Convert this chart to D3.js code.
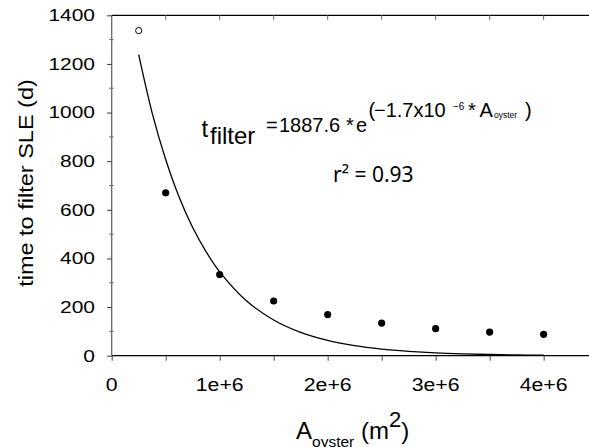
<!DOCTYPE html>
<html>
<head>
<meta charset="utf-8">
<script src="https://cdn.jsdelivr.net/npm/d3@7"></script>
<style>
  html, body { margin: 0; padding: 0; background: #fff; }
  svg { display: block; font-family: "Liberation Sans", Arial, sans-serif; }
</style>
</head>
<body>
<svg id="chart" width="589" height="447"></svg>
<script>
// ---- data ----
const areaFilled = [0.5e6, 1e6, 1.5e6, 2e6, 2.5e6, 3e6, 3.5e6, 4e6];
const timeFilled = [670, 334, 225, 169, 134, 111, 97, 88];
const areaOpen = [0.25e6];
const timeOpen = [1337];
// fitted curve
const fitArea = [0.25e6, 0.375e6, 0.5e6, 0.625e6, 0.75e6, 0.875e6, 1e6, 1.25e6, 1.5e6, 1.75e6, 2e6, 2.25e6, 2.5e6, 2.75e6, 3e6, 3.25e6, 3.5e6, 3.75e6, 4e6];
const fitTime = [1238, 998, 807, 652, 527, 427, 345, 225, 147, 96, 63, 41, 27, 18, 11.5, 7.5, 4.9, 3.2, 2.1];
const xTickValues = [0, 1e6, 2e6, 3e6, 4e6];
const xTickLabels = ["0", "1e+6", "2e+6", "3e+6", "4e+6"];
const xMinorTicks = [0, 0.5e6, 1e6, 1.5e6, 2e6, 2.5e6, 3e6, 3.5e6, 4e6];
const yTickValues = [0, 200, 400, 600, 800, 1000, 1200, 1400];
const yMinorTicks = [100, 300, 500, 700, 900, 1100, 1300];

// ---- layout ----
const svg = d3.select("#chart");
const x = d3.scaleLinear().domain([0, 4.42e6]).range([111.7, 589]);
const y = d3.scaleLinear().domain([0, 1400]).range([355.7, 15.3]);

// top frame line with inward ticks
svg.append("line").attr("x1", x(0)).attr("x2", 589).attr("y1", y(1400)).attr("y2", y(1400))
  .attr("stroke", "#000").attr("stroke-width", 1.3);
svg.append("g").selectAll("line").data(xMinorTicks.slice(1)).join("line")
  .attr("x1", d => x(d)).attr("x2", d => x(d))
  .attr("y1", y(1400)).attr("y2", y(1400) + 4.5)
  .attr("stroke", "#666").attr("stroke-width", 1);

// bottom axis
const xAxis = d3.axisBottom(x).tickValues(xMinorTicks).tickSize(5).tickFormat("");
const gx = svg.append("g").attr("transform", `translate(0,${y(0)})`).call(xAxis);
gx.select(".domain").attr("d", `M${x(0)},0H589`).attr("stroke", "#000").attr("stroke-width", 1.3);
gx.selectAll(".tick line").attr("stroke", "#444");
svg.append("g").selectAll("text").data(xTickValues).join("text")
  .attr("transform", d => `translate(${x(d)},391) scale(1.15,1)`)
  .attr("text-anchor", "middle")
  .attr("font-size", 18.5)
  .attr("fill", "#000")
  .text((d, i) => xTickLabels[i]);

// left axis
const yAxis = d3.axisLeft(y).tickValues(yTickValues).tickSize(4.5).tickFormat("");
const gy = svg.append("g").attr("transform", `translate(${x(0)},0)`).call(yAxis);
gy.select(".domain").attr("d", `M0,${y(0)}V${y(1400)}`).attr("stroke", "#666").attr("stroke-width", 1.3);
gy.selectAll(".tick line").attr("stroke", "#333");
svg.append("g").selectAll("line").data(yMinorTicks).join("line")
  .attr("x1", x(0) - 2.5).attr("x2", x(0) + 1.8)
  .attr("y1", d => y(d)).attr("y2", d => y(d))
  .attr("stroke", "#666").attr("stroke-width", 1);
svg.append("g").selectAll("text").data(yTickValues).join("text")
  .attr("transform", d => `translate(95,${y(d) + 5.9}) scale(1.27,1)`)
  .attr("text-anchor", "end")
  .attr("font-size", 16.5)
  .attr("fill", "#000")
  .text(d => d);

// y axis title
svg.append("text")
  .attr("transform", "translate(32.6,183) rotate(-90) scale(1.12,1)")
  .attr("text-anchor", "middle")
  .attr("font-size", 21)
  .text("time to filter SLE (d)");

// x axis title
const xt = svg.append("text").attr("x", 296).attr("y", 438.5).attr("font-size", 24);
xt.append("tspan").text("A");
xt.append("tspan").attr("font-size", 15.5).attr("dy", 8).text("oyster");
xt.append("tspan").attr("dy", -8).text(" (m");
xt.append("tspan").attr("font-size", 22).attr("dy", -11.5).text("2");
xt.append("tspan").attr("dy", 11.5).text(")");

// fitted curve
const fitLine = d3.line().x((d, i) => x(fitArea[i])).y(d => y(d)).curve(d3.curveCatmullRom.alpha(0.5));
svg.append("path").datum(fitTime).attr("d", fitLine)
  .attr("fill", "none").attr("stroke", "#000").attr("stroke-width", 1.3);

// points
svg.append("g").selectAll("circle").data(timeFilled).join("circle")
  .attr("cx", (d, i) => x(areaFilled[i])).attr("cy", d => y(d)).attr("r", 3.6)
  .attr("fill", "#000");
svg.append("g").selectAll("circle").data(timeOpen).join("circle")
  .attr("cx", (d, i) => x(areaOpen[i])).attr("cy", d => y(d)).attr("r", 3.1)
  .attr("fill", "#fff").attr("stroke", "#000").attr("stroke-width", 1);

// equation annotation
const eq = svg.append("g").attr("fill", "#000");
const piece = (txt, px, py, fs) => eq.append("text").attr("x", px).attr("y", py).attr("font-size", fs).text(txt);
piece("t", 201.5, 137, 24);
piece("filter", 210, 143.5, 24);
piece("=", 266, 132, 20);
piece("1887.6", 279, 132, 20);
piece("*", 346, 132, 20);
piece("e", 356, 132, 20);
piece("(", 368.5, 117, 20);
piece("\u22121.7x10", 374, 116.5, 20);
piece("\u22126", 453, 109.5, 10);
piece("*", 468, 116.5, 20);
piece("A", 479.5, 116.5, 20);
piece("oyster", 494, 118, 8.5);
piece(")", 525, 117, 20);

// r^2
svg.append("text").attr("x", 333).attr("y", 181.5)
  .attr("font-family", "'Noto Sans', 'Open Sans', sans-serif")
  .attr("font-size", 21).text("r\u00B2 = 0.93");
</script>
</body>
</html>
